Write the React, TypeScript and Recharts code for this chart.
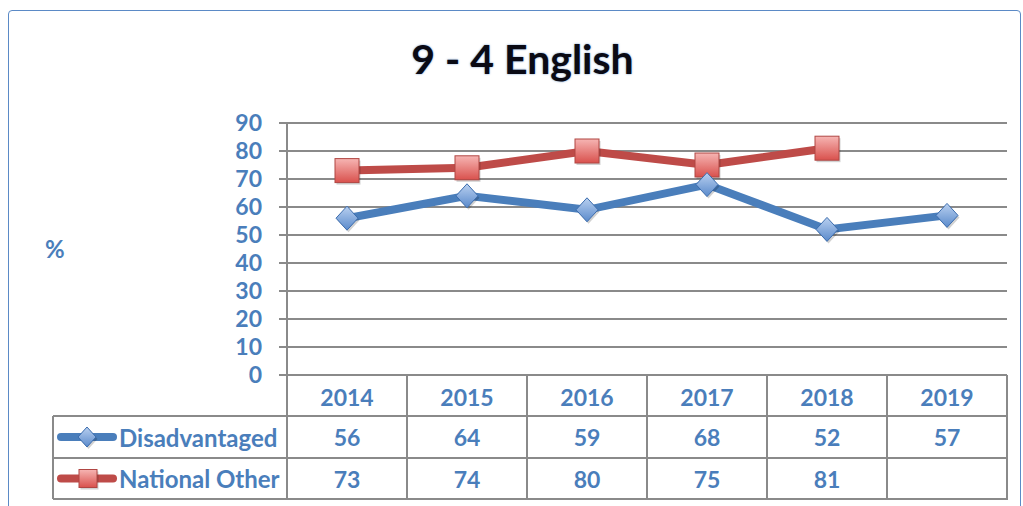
import React from 'react';
import { LineChart, Line, XAxis, YAxis, CartesianGrid } from 'recharts';

const years = ['2014', '2015', '2016', '2017', '2018', '2019'];
const disadvantaged: (number | null)[] = [56, 64, 59, 68, 52, 57];
const nationalOther: (number | null)[] = [73, 74, 80, 75, 81, null];
const yTicks = [0, 10, 20, 30, 40, 50, 60, 70, 80, 90];
const seriesNames = ['Disadvantaged', 'National Other'];

const data = years.map((y, i) => ({ year: y, dis: disadvantaged[i], nat: nationalOther[i] }));

const W = 1023;
const H = 506;
const PLOT_L = 287;
const PLOT_R = 1007;
const PLOT_T = 123;
const PLOT_B = 375;
const COL_W = (PLOT_R - PLOT_L) / years.length;
const ROW1 = 416;
const ROW2 = 458;
const ROW3 = 499;
const TABLE_L = 53;

const BLUE = '#4A7EBB';
const RED = '#BE4B48';
const TXT = '#4A7EBB';
const GRID = '#8A8A8A';
const FONT = 'Lato, "Open Sans", sans-serif';

const Diamond = ({ cx, cy, size = 11 }: { cx: number; cy: number; size?: number }) => (
  <g>
    <polygon
      points={`${cx},${cy - size - 1} ${cx + size},${cy} ${cx},${cy + size + 1} ${cx - size},${cy}`}
      fill="rgba(0,0,0,0.18)"
      transform="translate(1.5,2)"
    />
    <polygon
      points={`${cx},${cy - size - 1} ${cx + size},${cy} ${cx},${cy + size + 1} ${cx - size},${cy}`}
      fill="url(#gradBlue)"
      stroke="#3C6DAE"
      strokeWidth={1}
    />
  </g>
);

const Square = ({ cx, cy, size = 12 }: { cx: number; cy: number; size?: number }) => (
  <g>
    <rect x={cx - size + 1.5} y={cy - size + 2} width={size * 2} height={size * 2} fill="rgba(0,0,0,0.18)" />
    <rect
      x={cx - size}
      y={cy - size}
      width={size * 2}
      height={size * 2}
      fill="url(#gradRed)"
      stroke="#B04643"
      strokeWidth={1}
    />
  </g>
);

const renderDiamond = (p: any) => {
  if (p.value == null || p.cy == null) return <g key={p.key} />;
  return <Diamond key={p.key} cx={p.cx} cy={p.cy} />;
};
const renderSquare = (p: any) => {
  if (p.value == null || p.cy == null) return <g key={p.key} />;
  return <Square key={p.key} cx={p.cx} cy={p.cy} />;
};

const TableTick = (props: any) => {
  const { x, y, payload, index } = props;
  const i = index as number;
  const left = x - COL_W / 2;
  const right = x + COL_W / 2;
  const dv = disadvantaged[i];
  const nv = nationalOther[i];
  const tProps = {
    fill: TXT,
    fontFamily: FONT,
    fontWeight: 700,
    fontSize: 23,
    textAnchor: 'middle' as const,
    dominantBaseline: 'central' as const,
  };
  return (
    <g>
      {i === 0 && (
        <g>
          <line x1={TABLE_L} x2={PLOT_R + 1} y1={ROW1} y2={ROW1} stroke={GRID} strokeWidth={2} />
          <line x1={TABLE_L} x2={PLOT_R + 1} y1={ROW2} y2={ROW2} stroke={GRID} strokeWidth={2} />
          <line x1={TABLE_L} x2={PLOT_R + 1} y1={ROW3} y2={ROW3} stroke={GRID} strokeWidth={2} />
          <line x1={TABLE_L} x2={TABLE_L} y1={ROW1} y2={ROW3} stroke={GRID} strokeWidth={2} />
          <line x1={left} x2={left} y1={y} y2={ROW3} stroke={GRID} strokeWidth={2} />
          <line x1={61} x2={113} y1={(ROW1 + ROW2) / 2} y2={(ROW1 + ROW2) / 2} stroke={BLUE} strokeWidth={8} strokeLinecap="round" />
          <Diamond cx={87} cy={(ROW1 + ROW2) / 2} size={9} />
          <line x1={61} x2={113} y1={(ROW2 + ROW3) / 2} y2={(ROW2 + ROW3) / 2} stroke={RED} strokeWidth={8} strokeLinecap="round" />
          <Square cx={88} cy={(ROW2 + ROW3) / 2} size={9} />
          <text {...tProps} fontSize={24} textAnchor="start" x={119} y={(ROW1 + ROW2) / 2}>{seriesNames[0]}</text>
          <text {...tProps} fontSize={24} textAnchor="start" x={119} y={(ROW2 + ROW3) / 2}>{seriesNames[1]}</text>
        </g>
      )}
      <line x1={right} x2={right} y1={y} y2={ROW3} stroke={GRID} strokeWidth={2} />
      <text {...tProps} x={x} y={(y + ROW1) / 2 + 1}>{payload.value}</text>
      {dv != null && <text {...tProps} x={x} y={(ROW1 + ROW2) / 2}>{dv}</text>}
      {nv != null && <text {...tProps} x={x} y={(ROW2 + ROW3) / 2}>{nv}</text>}
    </g>
  );
};

export default function App() {
  return (
    <div style={{ position: 'absolute', left: 0, top: 0, width: W, height: H, overflow: 'hidden', background: '#fff' }}>
      <svg width={0} height={0} style={{ position: 'absolute' }}>
        <defs>
          <linearGradient id="gradBlue" x1="0" y1="0" x2="0" y2="1">
            <stop offset="0%" stopColor="#B9D0F0" />
            <stop offset="100%" stopColor="#5A8ACB" />
          </linearGradient>
          <linearGradient id="gradRed" x1="0" y1="0" x2="0" y2="1">
            <stop offset="0%" stopColor="#F6B5B3" />
            <stop offset="100%" stopColor="#D9514D" />
          </linearGradient>
        </defs>
      </svg>
      <div
        style={{
          position: 'absolute',
          left: 8,
          top: 10,
          width: 1011,
          height: 520,
          border: '1.5px solid #5B8AC6',
          borderRadius: 4,
        }}
      />
      <div
        style={{
          position: 'absolute',
          left: 0,
          width: W,
          top: 34,
          textAlign: 'center',
          fontFamily: FONT,
          fontWeight: 700,
          fontSize: 41,
          lineHeight: '50px',
          color: '#0A0A14',
          paddingLeft: 22,
          boxSizing: 'border-box',
          textShadow: '0 0 2px rgba(79,129,189,0.9)',
        }}
      >
        9 - 4 English
      </div>
      <div
        style={{
          position: 'absolute',
          left: 45,
          top: 234,
          fontFamily: FONT,
          fontWeight: 700,
          fontSize: 24,
          color: TXT,
        }}
      >
        %
      </div>
      <div style={{ position: 'absolute', left: 0, top: 0 }}>
        <LineChart
          width={W}
          height={H}
          data={data}
          margin={{ top: PLOT_T, right: W - PLOT_R, bottom: 0, left: PLOT_L - 60 }}
        >
          <CartesianGrid vertical={false} stroke={GRID} strokeWidth={2} />
          <XAxis
            dataKey="year"
            height={H - PLOT_B}
            padding={{ left: COL_W / 2, right: COL_W / 2 }}
            tickLine={false}
            tickSize={0}
            tickMargin={0}
            axisLine={{ stroke: GRID, strokeWidth: 2 }}
            tick={<TableTick />}
            interval={0}
          />
          <YAxis
            width={60}
            domain={[0, 90]}
            ticks={yTicks}
            interval={0}
            tickSize={8}
            tickMargin={17}
            axisLine={{ stroke: GRID, strokeWidth: 2 }}
            tickLine={{ stroke: GRID, strokeWidth: 2 }}
            tick={{ fill: TXT, fontFamily: FONT, fontWeight: 700, fontSize: 23 }}
          />
          <Line
            type="linear"
            dataKey="nat"
            stroke={RED}
            strokeWidth={8}
            dot={renderSquare}
            activeDot={false}
            isAnimationActive={false}
            connectNulls={false}
          />
          <Line
            type="linear"
            dataKey="dis"
            stroke={BLUE}
            strokeWidth={8}
            dot={renderDiamond}
            activeDot={false}
            isAnimationActive={false}
          />
        </LineChart>
      </div>
    </div>
  );
}
